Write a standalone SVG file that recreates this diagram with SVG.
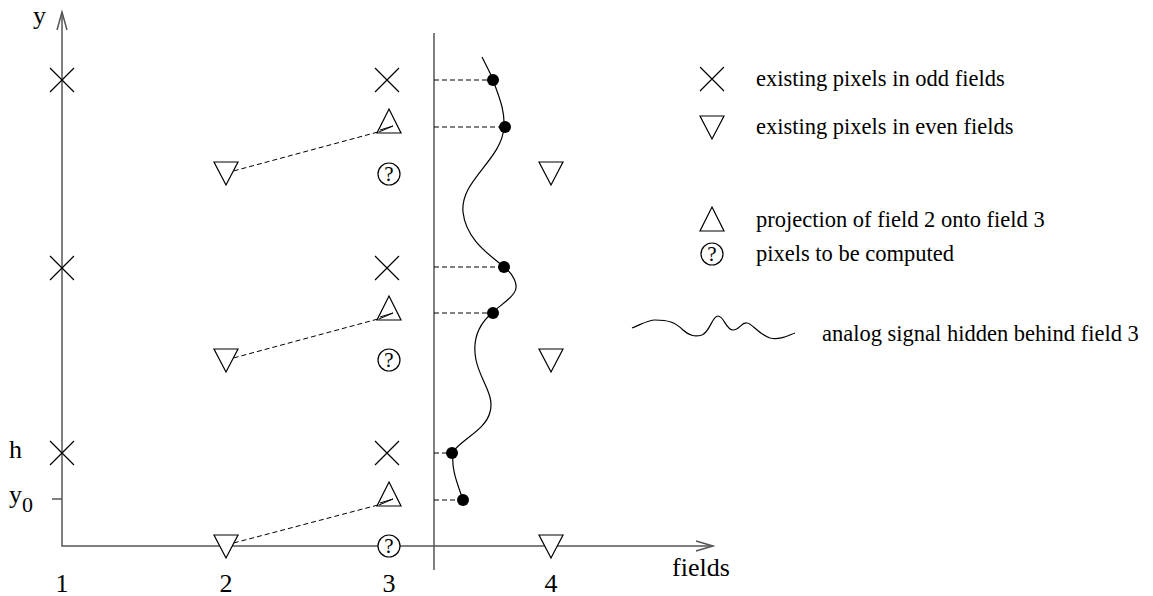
<svg xmlns="http://www.w3.org/2000/svg" width="1153" height="596" viewBox="0 0 1153 596">
<style>
text{font-family:"Liberation Serif","Times New Roman",serif;fill:#000}
.lbl{font-size:26px}
.leg{font-size:22.5px}
.ax{stroke:#555;stroke-width:1.5;fill:none}
.sym{stroke:#000;stroke-width:1.2;fill:#fff}
.dash{stroke:#000;stroke-width:1;stroke-dasharray:5,3;fill:none}
.curve{stroke:#000;stroke-width:1.2;fill:none}
.q{font-size:21px;text-anchor:middle}
</style>
<defs>
<g id="cross"><path d="M-12,-12 L12,12 M-12,12 L12,-12" stroke="#000" stroke-width="1.2"/></g>
<g id="down"><path d="M-12,-11 L12,-11 L0,12 Z" class="sym"/></g>
<g id="up"><path d="M0,-12 L12,12 L-12,12 Z" class="sym"/></g>
<g id="qm"><circle r="11" class="sym"/><text class="q" y="7">?</text></g>
</defs>

<g id="axes">
<path class="ax" d="M62,12 L62,546 L713,546"/>
<path class="ax" d="M57,30 L62,12 L67,30"/>
<path class="ax" d="M696,541 L713,546 L696,551"/>
<path class="ax" d="M434,33 L434,570"/>
<path class="ax" d="M52,499 L62,499"/>
</g>

<g id="axis-labels" class="lbl">
<text x="33" y="24">y</text>
<text x="9" y="458">h</text>
<text x="9" y="503">y</text>
<text x="22" y="512" font-size="22">0</text>
<text x="62" y="592" text-anchor="middle">1</text>
<text x="226" y="592" text-anchor="middle">2</text>
<text x="389" y="592" text-anchor="middle">3</text>
<text x="551" y="592" text-anchor="middle">4</text>
<text x="672" y="576">fields</text>
</g>

<g id="connectors">
<path class="dash" d="M226,173 L378,132 M226,360 L378,319 M226,545 L378,505"/>
<path class="dash" d="M434,80 L493,80 M434,127 L504,127 M434,267 L504,267 M434,313 L492,313 M434,453 L452,453 M434,500 L463,500"/>
</g>

<g id="field1">
<use href="#cross" x="62" y="80"/>
<use href="#cross" x="62" y="268"/>
<use href="#cross" x="62" y="453"/>
</g>

<g id="field2">
<use href="#down" x="226" y="173"/>
<use href="#down" x="226" y="360"/>
<use href="#down" x="226" y="546"/>
</g>

<g id="field3">
<use href="#cross" x="387" y="80"/>
<use href="#cross" x="387" y="268"/>
<use href="#cross" x="387" y="453"/>
<use href="#up" x="389" y="121"/>
<use href="#up" x="389" y="308"/>
<use href="#up" x="389" y="494"/>
<path d="M380,130 L393,126 L379,132 M380,317 L393,313 L379,319 M380,503 L393,499 L379,505" stroke="#000" stroke-width="1" fill="none"/>
<use href="#qm" x="389" y="174"/>
<use href="#qm" x="389" y="360"/>
<use href="#qm" x="389" y="546"/>
</g>

<g id="field4">
<use href="#down" x="551" y="173"/>
<use href="#down" x="551" y="360"/>
<use href="#down" x="551" y="546"/>
</g>

<g id="signal">
<path class="curve" d="M482,57 C487,67 491,74 493,80 C499,97 505,110 504,127 C502,160 460,180 463,212 C466,240 490,255 504,267 C512,273 520,285 514,293 C508,302 496,308 492,313 C478,325 472,340 476,360 C480,380 495,395 490,412 C486,430 460,440 453,452 C451,470 458,485 463,500"/>
<circle cx="493" cy="80" r="6"/>
<circle cx="505" cy="127" r="6"/>
<circle cx="504" cy="267" r="6"/>
<circle cx="493" cy="313" r="6"/>
<circle cx="452" cy="453" r="6"/>
<circle cx="463" cy="500" r="6"/>
</g>

<g id="legend">
<use href="#cross" x="712" y="79"/>
<text class="leg" x="756" y="86">existing pixels in odd fields</text>
<use href="#down" x="712" y="127"/>
<text class="leg" x="756" y="134">existing pixels in even fields</text>
<use href="#up" x="712" y="219"/>
<text class="leg" x="756" y="227">projection of field 2 onto field 3</text>
<use href="#qm" x="712" y="254"/>
<text class="leg" x="756" y="261">pixels to be computed</text>
<path class="curve" d="M632,328 C642,324 648,320 655,320 C668,320 675,322 683,330 C690,336 695,337 702,335 C710,332 712,316 718,316 C724,316 726,330 733,330 C740,330 741,322 747,323 C752,323 758,334 770,338 C780,340 787,336 795,333"/>
<text class="leg" x="822" y="341">analog signal hidden behind field 3</text>
</g>
</svg>
